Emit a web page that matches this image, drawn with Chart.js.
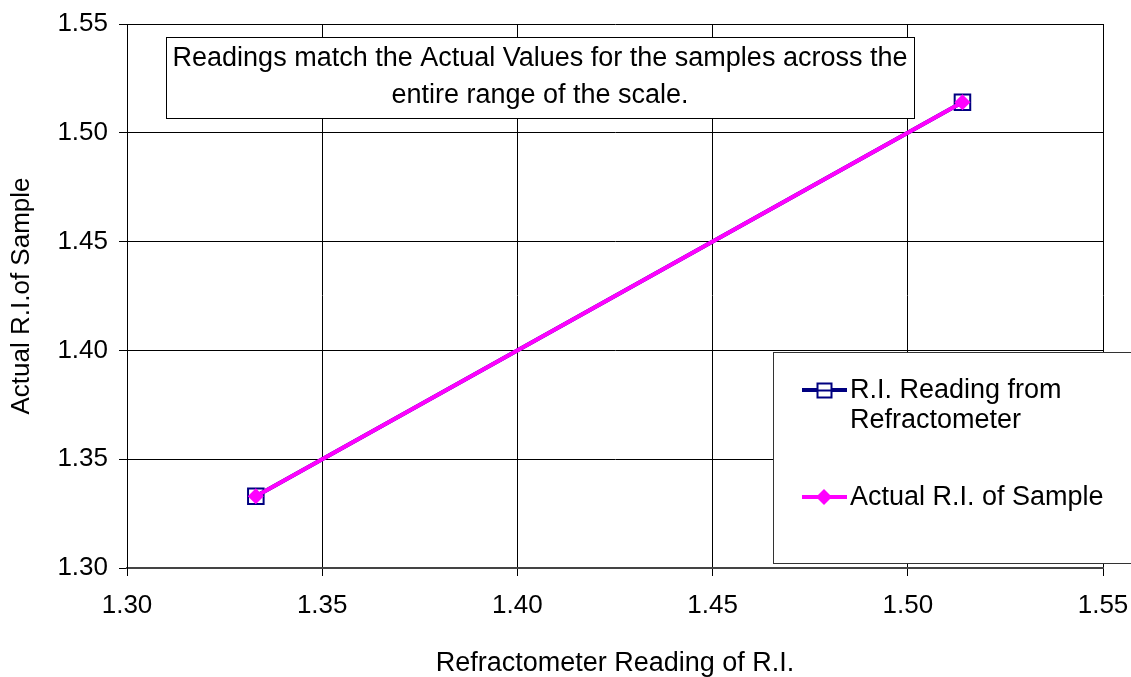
<!DOCTYPE html>
<html>
<head>
<meta charset="utf-8">
<script src="https://cdn.jsdelivr.net/npm/chart.js@4/dist/chart.umd.min.js"></script>
<style>
  html, body { margin: 0; padding: 0; background: #fff; }
  #wrap { width: 1131px; height: 677px; }
</style>
</head>
<body>
<div id="wrap"><canvas id="riChart" width="1131" height="677"></canvas></div>
<script>
// DATA
const refractometerReadings = [1.333, 1.514];
const readingSeries = [1.333, 1.514];
const actualSeries = [1.333, 1.514];
const tickValues = [1.30, 1.35, 1.40, 1.45, 1.50, 1.55];
const seriesNames = ['R.I. Reading from Refractometer', 'Actual R.I. of Sample'];
const noteLines = ['Readings match the Actual Values for the samples across the', 'entire range of the scale.'];

const FONT = 'Arial, "Liberation Sans", sans-serif';

function toPoints(xs, ys) {
    return xs.map((x, i) => ({ x: x, y: ys[i] }));
}

// NOTE BOX + LEGEND BOX
const boxesPlugin = {
    id: 'boxes',
    afterDraw(chart) {
        const c = chart.ctx;
        c.save();

        // note box
        c.fillStyle = '#fff';
        c.fillRect(166.5, 37.5, 748, 81);
        c.strokeStyle = '#000';
        c.lineWidth = 1;
        c.strokeRect(166.5, 37.5, 748, 81);
        c.fillStyle = '#000';
        c.font = '27px ' + FONT;
        c.textAlign = 'center';
        c.textBaseline = 'middle';
        c.fillText(noteLines[0], 540, 59);
        c.fillText(noteLines[1], 540, 96);

        // legend box
        c.fillStyle = '#fff';
        c.fillRect(773.5, 352.5, 370, 211);
        c.strokeStyle = '#333';
        c.strokeRect(773.5, 352.5, 370, 211);

        c.textAlign = 'left';
        c.font = '27px ' + FONT;

        // entry 1
        c.strokeStyle = '#000080';
        c.lineWidth = 4;
        c.beginPath(); c.moveTo(802, 390); c.lineTo(847, 390); c.stroke();
        c.fillStyle = '#fff';
        c.fillRect(817.5, 383.5, 14, 14);
        c.lineWidth = 2;
        c.strokeRect(817.5, 383.5, 14, 14);
        c.beginPath(); c.moveTo(817, 390.5); c.lineTo(832, 390.5); c.lineWidth = 2; c.stroke();
        c.fillStyle = '#000';
        c.fillText('R.I. Reading from', 850, 391);
        c.fillText('Refractometer', 850, 421);

        // entry 2
        c.strokeStyle = '#ff00ff';
        c.lineWidth = 4;
        c.beginPath(); c.moveTo(802, 497); c.lineTo(847, 497); c.stroke();
        c.fillStyle = '#ff00ff';
        c.beginPath();
        c.moveTo(824, 489); c.lineTo(832, 497); c.lineTo(824, 505); c.lineTo(816, 497);
        c.closePath(); c.fill();
        c.fillStyle = '#000';
        c.fillText(seriesNames[1], 850, 498);

        c.restore();
    }
};

const ctx = document.getElementById('riChart');

new Chart(ctx, {
    type: 'scatter',
    data: {
        datasets: [
            {
                label: seriesNames[0],
                data: toPoints(refractometerReadings, readingSeries),
                showLine: true,
                borderColor: '#000080',
                borderWidth: 4,
                pointStyle: 'rect',
                pointRadius: 11,
                pointBorderWidth: 2,
                pointBorderColor: '#000080',
                pointBackgroundColor: 'rgba(255,255,255,0)',
                order: 2
            },
            {
                label: seriesNames[1],
                data: toPoints(refractometerReadings, actualSeries),
                showLine: true,
                borderColor: '#ff00ff',
                borderWidth: 4,
                pointStyle: 'rectRot',
                pointRadius: 8,
                pointBorderWidth: 0,
                pointBackgroundColor: '#ff00ff',
                order: 1
            }
        ]
    },
    options: {
        responsive: false,
        animation: false,
        layout: { padding: { left: 0, right: 28, top: 24, bottom: 0 } },
        plugins: {
            legend: { display: false },
            tooltip: { enabled: false }
        },
        scales: {
            x: {
                type: 'linear',
                min: 1.30,
                max: 1.55,
                afterBuildTicks: (s) => { s.ticks = tickValues.map(v => ({ value: v })); },
                afterFit: (s) => { s.height = 109; s.paddingLeft = 0; s.paddingRight = 0; },
                ticks: {
                    color: '#000',
                    padding: 14,
                    font: { family: FONT, size: 26 },
                    callback: (v) => Number(v).toFixed(2)
                },
                grid: { color: '#000', lineWidth: 1, tickLength: 8 },
                border: { color: '#444', width: 2 },
                title: {
                    display: true,
                    text: 'Refractometer Reading of R.I.',
                    color: '#000',
                    font: { family: FONT, size: 27, lineHeight: 1.0 },
                    padding: { top: 0, bottom: 0 }
                }
            },
            y: {
                type: 'linear',
                min: 1.30,
                max: 1.55,
                afterBuildTicks: (s) => { s.ticks = tickValues.map(v => ({ value: v })); },
                afterFit: (s) => { s.width = 127; s.paddingTop = 0; s.paddingBottom = 0; },
                ticks: {
                    color: '#000',
                    padding: 11,
                    font: { family: FONT, size: 26 },
                    callback: (v) => Number(v).toFixed(2)
                },
                grid: { color: '#000', lineWidth: 1, tickLength: 8 },
                border: { color: '#000', width: 1 },
                title: {
                    display: true,
                    text: 'Actual R.I.of Sample',
                    color: '#000',
                    font: { family: FONT, size: 26, lineHeight: 1.0 },
                    padding: { top: 9, bottom: 0 }
                }
            }
        }
    },
    plugins: [boxesPlugin]
});
</script>
</body>
</html>
